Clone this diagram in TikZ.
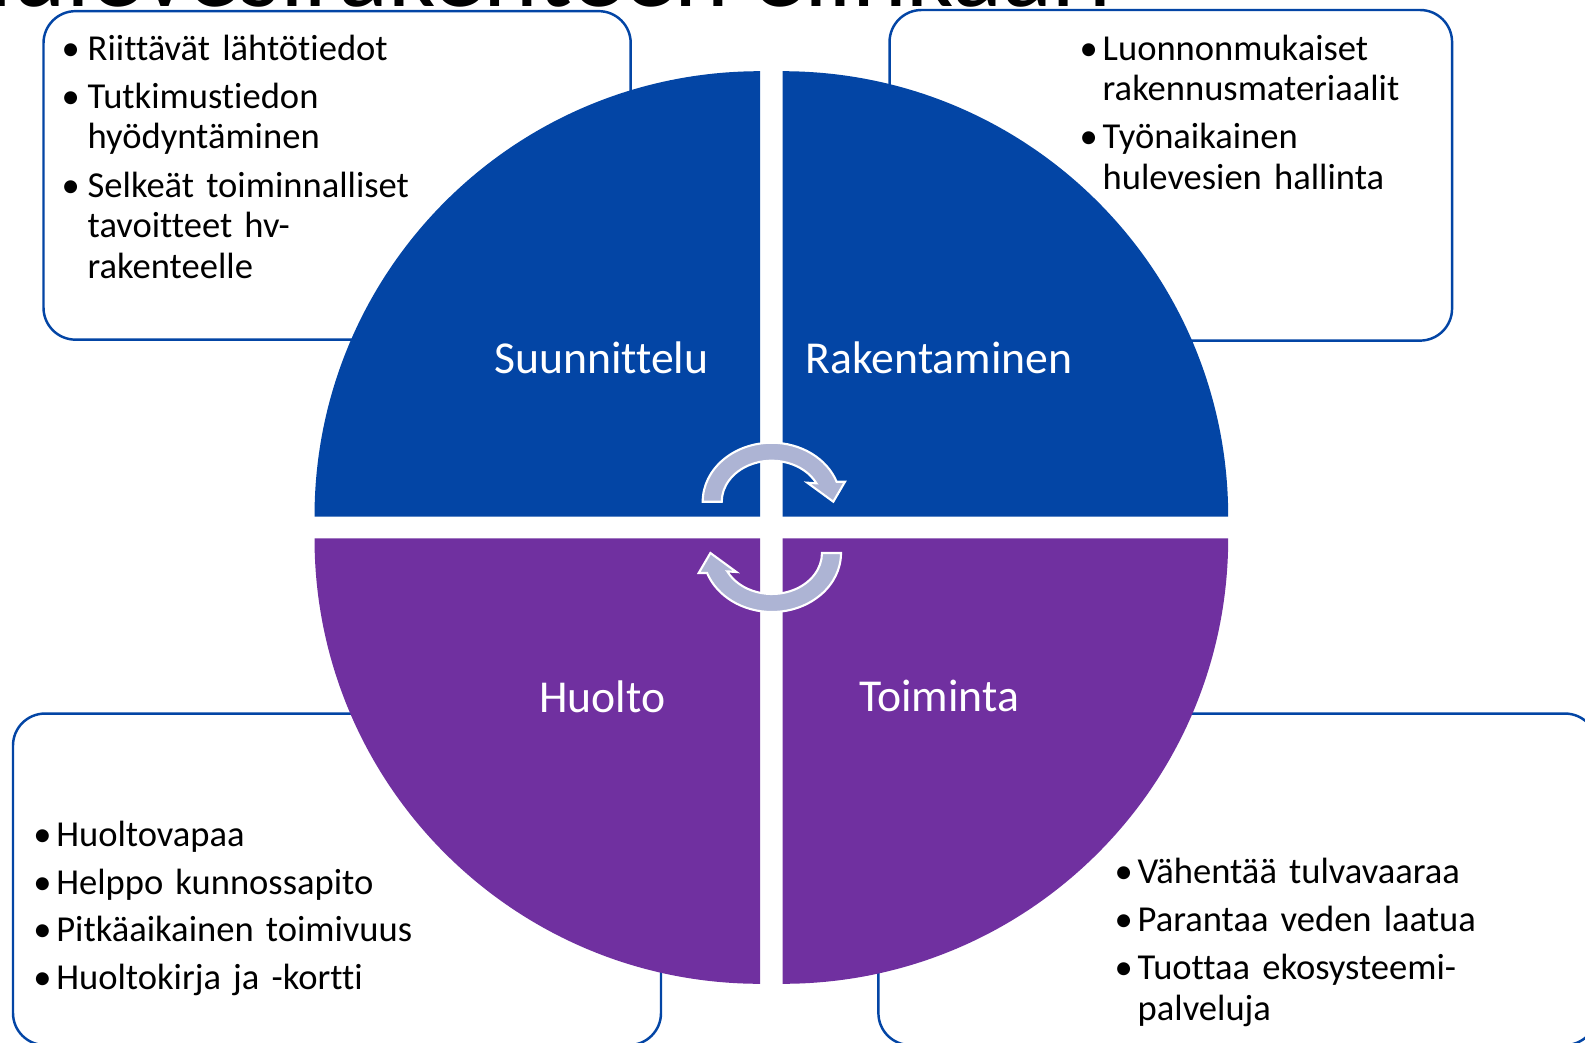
\documentclass[tikz,border=0pt]{standalone}
\usepackage{fontspec}
\setmainfont{Carlito}[Ligatures=NoCommon]
\usetikzlibrary{positioning}

\definecolor{qblue}{RGB}{3,69,165}
\definecolor{qpurple}{RGB}{112,48,160}
\definecolor{cyclefill}{RGB}{173,180,212}
% one bullet point with hanging indent
\newlength{\bulw}
\setlength{\bulw}{0.23cm}
\newcommand{\hvitem}[1]{\hangindent=\bulw\hangafter=1\noindent\makebox[\bulw][l]{\textbullet}#1\par}

\begin{document}
\begin{tikzpicture}[
	infobox/.style={draw=qblue, line width=0.7pt, fill=white, rounded corners=0.32cm, inner sep=0pt},
	phase/.style={text=white, inner sep=0pt, font=\fontsize{13pt}{15pt}\selectfont},
	bullets/.style={anchor=base west, text width=5.2cm, inner sep=0pt,
		font=\fontsize{10.4pt}{11.52pt}\selectfont},
	cyc/.style={fill=cyclefill, draw=white, line width=0.6pt}]
	\useasboundingbox (0,0) rectangle (15.85,-10.42);

	% title, cut off by the page
	\node[anchor=base east, inner sep=0pt, font=\fontsize{29.6pt}{32pt}\selectfont] (title) at (11.13,-0.06) {Hulevesirakenteen elinkaari};

	% boxes behind the wheel
	\node[infobox, minimum width=5.872cm, minimum height=3.285cm] (planbox) at (3.371,-1.754) {};
	\node[infobox, minimum width=5.625cm, minimum height=3.306cm] (buildbox) at (11.708,-1.753) {};
	\node[infobox, minimum width=6.48cm, minimum height=3.315cm] (carebox) at (3.37,-8.793) {};
	\node[infobox, minimum width=7.186cm, minimum height=3.315cm] (runbox) at (12.377,-8.793) {};

	% the four quarters
	\fill[qblue] (7.60,-5.167) -- ++(-4.455,0) arc[start angle=180, end angle=90, radius=4.455] -- cycle;
	\fill[qblue] (7.827,-5.167) -- ++(0,4.455) arc[start angle=90, end angle=0, radius=4.455] -- cycle;
	\fill[qpurple] (7.60,-5.383) -- ++(0,-4.455) arc[start angle=270, end angle=180, radius=4.455] -- cycle;
	\fill[qpurple] (7.827,-5.383) -- ++(4.455,0) arc[start angle=0, end angle=-90, radius=4.455] -- cycle;

	\node[phase] (plan) at (6.014,-3.578) {Suunnittelu};
	\node[phase] (build) at (9.39,-3.578) {Rakentaminen};
	\node[phase] (care) at (6.024,-6.964) {Huolto};
	\node[phase] (run) at (9.39,-6.964) {Toiminta};

	% cycle arrows in the middle
	\begin{scope}[shift={(7.717,-5.017)}]
		\filldraw[cyc] (-0.69,0) arc[start angle=180, end angle=19.8, x radius=0.69, y radius=0.59]
			-- (0.733,0.20) -- (0.616,0) -- (0.356,0.19) -- (0.447,0.184)
			arc[start angle=26.7, end angle=180, x radius=0.50, y radius=0.41] -- cycle;
	\end{scope}
	\begin{scope}[shift={(7.72,-5.53)}, rotate=180]
		\filldraw[cyc] (-0.69,0) arc[start angle=180, end angle=19.8, x radius=0.69, y radius=0.59]
			-- (0.733,0.20) -- (0.616,0) -- (0.356,0.19) -- (0.447,0.184)
			arc[start angle=26.7, end angle=180, x radius=0.50, y radius=0.41] -- cycle;
	\end{scope}

	% bullet lists
	\node[bullets] (planlist) at (0.61,-0.60) {\setlength{\parskip}{0.08cm}\setlength{\bulw}{0.26cm}%
		\hvitem{Riittävät lähtötiedot}\hvitem{Tutkimustiedon\newline hyödyntäminen}%
		\hvitem{Selkeät toiminnalliset\newline tavoitteet hv-\newline rakenteelle}};
	\node[bullets] (buildlist) at (10.79,-0.60) {\setlength{\parskip}{0.08cm}%
		\hvitem{Luonnonmukaiset\newline rakennusmateriaalit}\hvitem{Työnaikainen\newline hulevesien hallinta}};
	\node[bullets] (carelist) at (0.326,-8.467) {\setlength{\parskip}{0.07cm}%
		\hvitem{Huoltovapaa}\hvitem{Helppo kunnossapito}%
		\hvitem{Pitkäaikainen toimivuus}\hvitem{Huoltokirja ja -kortti}};
	\node[bullets] (runlist) at (11.14,-8.83) {\setlength{\parskip}{0.08cm}%
		\hvitem{Vähentää tulvavaaraa}\hvitem{Parantaa veden laatua}%
		\hvitem{Tuottaa ekosysteemi-\newline palveluja}};
\end{tikzpicture}
\end{document}
